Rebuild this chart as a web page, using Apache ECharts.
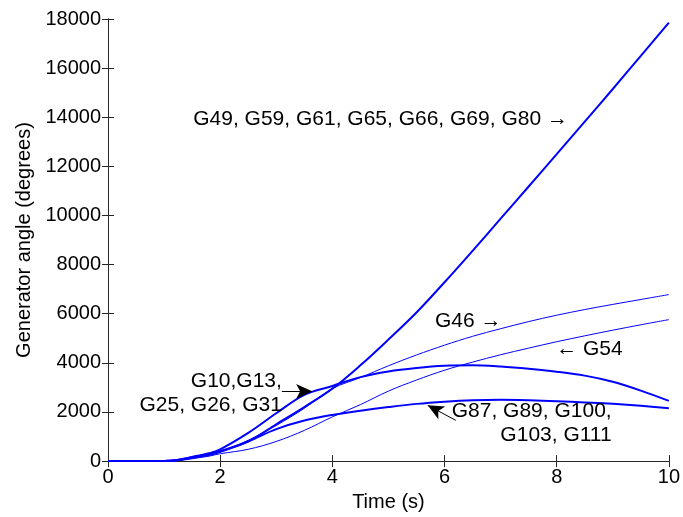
<!DOCTYPE html>
<html>
<head>
<meta charset="utf-8">
<script src="https://cdn.jsdelivr.net/npm/echarts@6/dist/echarts.min.js"></script>
<style>html,body{margin:0;padding:0;background:#fff}#c{width:683px;height:517px}</style>
</head>
<body>
<div id="c"></div>
<script>
const time   = [0, 0.5, 1.0, 1.2, 1.4, 1.6, 1.8, 2.0, 2.5, 3.0, 3.5, 4.0, 4.5, 5.0, 5.5, 6.0, 6.5, 7.0, 7.5, 8.0, 8.5, 9.0, 9.5, 10];
const groupA = [0, 0, 0, 20, 100, 180, 250, 380, 800, 1500, 2200, 2950, 3900, 4950, 6050, 7280, 8560, 9870, 11180, 12500, 13820, 15150, 16500, 17850];
const groupB = [0, 0, 0, 30, 120, 220, 320, 480, 1150, 1950, 2700, 3060, 3420, 3650, 3790, 3880, 3900, 3850, 3760, 3640, 3480, 3230, 2870, 2450];
const groupC = [0, 0, 0, 30, 110, 200, 280, 400, 800, 1300, 1650, 1880, 2050, 2200, 2330, 2420, 2480, 2500, 2480, 2440, 2390, 2330, 2250, 2150];
const g46    = [0, 0, 0, 20, 90, 170, 250, 370, 850, 1450, 2150, 2950, 3400, 3880, 4320, 4720, 5080, 5390, 5680, 5940, 6170, 6380, 6580, 6780];
const g54    = [0, 0, 0, 10, 60, 130, 200, 300, 480, 800, 1250, 1800, 2300, 2850, 3300, 3700, 4030, 4330, 4600, 4860, 5100, 5330, 5550, 5760];

const xTicks = [0, 2, 4, 6, 8, 10];
const yTicks = [0, 2000, 4000, 6000, 8000, 10000, 12000, 14000, 16000, 18000];

const annotTexts = ['G49, G59, G61, G65, G66, G69, G80 \u2192', 'G46 \u2192', '\u2190 G54', 'G10,G13,', 'G25, G26, G31', 'G87, G89, G100,', 'G103, G111'];
const annotX     = [8.2, 5.83, 7.99, 3.1, 3.1, 8.98, 8.98];
const annotY     = [13900, 5680, 4540, 3240, 2270, 2030, 1050];
const annotAlign = ['right', 'left', 'left', 'right', 'right', 'right', 'right'];

const arrowFrom = [[3.1, 2840], [6.2, 1660]];
const arrowTo   = [[3.64, 2840], [5.70, 2270]];

const FONT = '"Liberation Sans", Arial, Helvetica, sans-serif';
const pair = a => time.map((t, i) => [t, a[i]]);

const chart = echarts.init(document.getElementById('c'), null, {renderer: 'canvas'});

function lineSeries(name, data, width) {
  return {
    name, type: 'line', data: pair(data), showSymbol: false, symbol: 'none',
    smooth: 0.35, lineStyle: {color: '#0000ff', width}, itemStyle: {color: '#0000ff'},
    silent: true, animation: false, z: 3
  };
}

const series = [
  lineSeries('G49, G59, G61, G65, G66, G69, G80', groupA, 2),
  lineSeries('G10, G13, G25, G26, G31', groupB, 2),
  lineSeries('G87, G89, G100, G103, G111', groupC, 2),
  lineSeries('G46', g46, 1),
  lineSeries('G54', g54, 1)
];
series.push({
  type: 'line', data: [], silent: true, animation: false,
  markLine: {
    silent: true, animation: false, symbol: ['none', 'arrow'], symbolSize: [11, 16],
    label: {show: false}, lineStyle: {color: '#000', width: 1, type: 'solid'},
    emphasis: {disabled: true},
    data: arrowFrom.map((f, i) => [{coord: f}, {coord: arrowTo[i]}])
  }
});

const axisCommon = {
  axisLine: {show: true, lineStyle: {color: '#262626', width: 1}},
  axisTick: {show: true, inside: true, length: 6, lineStyle: {color: '#262626'}},
  splitLine: {show: false}
};

chart.setOption({
  backgroundColor: '#fff',
  animation: false,
  grid: {left: 108, right: 14, top: 19, bottom: 54, containLabel: false},
  xAxis: [
    Object.assign({type: 'value', min: 0, max: 10, interval: 2, position: 'bottom',
      name: 'Time (s)', nameLocation: 'middle', nameGap: 22,
      nameTextStyle: {fontFamily: FONT, fontSize: 20, color: '#000'},
      axisLabel: {fontFamily: FONT, fontSize: 20, color: '#000', margin: 6,
        formatter: v => xTicks.includes(v) ? String(v) : ''}}, axisCommon),
    Object.assign({type: 'value', min: 0, max: 10, interval: 2, position: 'top',
      axisLabel: {show: false}}, axisCommon)
  ],
  yAxis: [
    Object.assign({type: 'value', min: 0, max: 18000, interval: 2000, position: 'left',
      name: 'Generator angle (degrees)', nameLocation: 'middle', nameGap: 74,
      nameTextStyle: {fontFamily: FONT, fontSize: 20, color: '#000'},
      axisLabel: {fontFamily: FONT, fontSize: 20, color: '#000', margin: 7,
        formatter: v => yTicks.includes(v) ? String(v) : ''}}, axisCommon),
    Object.assign({type: 'value', min: 0, max: 18000, interval: 2000, position: 'right',
      axisLabel: {show: false}}, axisCommon)
  ],
  series
});

const graphics = annotTexts.map((txt, i) => {
  const p = chart.convertToPixel({xAxisIndex: 0, yAxisIndex: 0}, [annotX[i], annotY[i]]);
  return {
    type: 'text', x: p[0], y: p[1], silent: true, z: 10,
    style: {text: txt, fontFamily: FONT, fontSize: 21, fill: '#000',
      align: annotAlign[i], verticalAlign: 'middle'}
  };
});
chart.setOption({graphic: graphics});
</script>
</body>
</html>
